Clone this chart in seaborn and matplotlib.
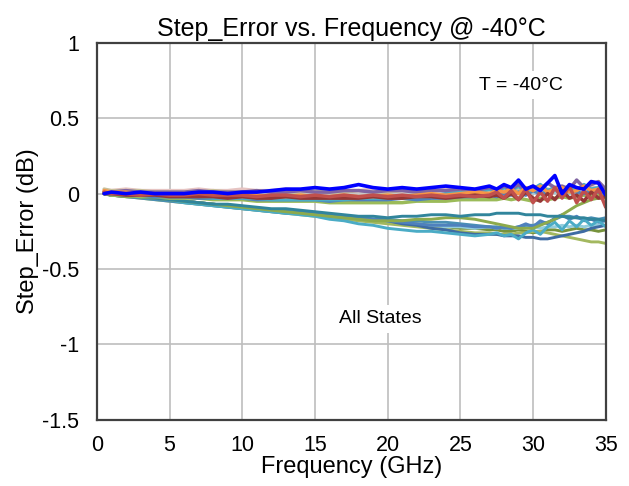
import seaborn as sns
import matplotlib.pyplot as plt

# frequency points (GHz)
freq = [0.5, 1, 2, 3, 4, 5, 6, 7, 8, 9, 10, 11, 12, 13, 14, 15, 16, 17, 18, 19, 20,
        21, 22, 23, 24, 25, 26, 27, 27.5, 28, 28.5, 29, 29.5, 30, 30.5, 31, 31.5,
        32, 32.5, 33, 33.5, 34, 34.5, 35]

# lower group of states (diverging downwards)
low_dark_teal = [0.00, -0.01, -0.01, -0.02, -0.03, -0.04,
                 -0.05, -0.06, -0.07, -0.07, -0.08,
                 -0.09, -0.10, -0.10, -0.11, -0.12,
                 -0.13, -0.14, -0.15, -0.15, -0.16,
                 -0.15, -0.15, -0.14, -0.14, -0.15,
                 -0.14, -0.14,
                 -0.13, -0.13, -0.13, -0.13, -0.14, -0.14, -0.14, -0.15, -0.15, -0.15,
                 -0.16, -0.16, -0.16, -0.17, -0.17, -0.18]
low_olive_rise = [0.00, -0.01, -0.02, -0.02, -0.03, -0.04,
                  -0.05, -0.06, -0.07, -0.08, -0.09,
                  -0.10, -0.11, -0.12, -0.13, -0.14,
                  -0.15, -0.16, -0.17, -0.18, -0.18,
                  -0.18, -0.17, -0.17, -0.16, -0.16,
                  -0.17, -0.19,
                  -0.20, -0.21, -0.22, -0.23, -0.23, -0.23, -0.21, -0.19, -0.17, -0.14,
                  -0.11, -0.08, -0.06, -0.04, -0.03, -0.03]
low_olive_fall = [0.00, -0.01, -0.02, -0.03, -0.04, -0.05,
                  -0.06, -0.07, -0.08, -0.09, -0.10,
                  -0.11, -0.12, -0.13, -0.14, -0.15,
                  -0.16, -0.17, -0.18, -0.19, -0.20,
                  -0.21, -0.22, -0.23, -0.24, -0.25,
                  -0.26, -0.26,
                  -0.27, -0.27, -0.27, -0.26, -0.26, -0.25, -0.25, -0.26, -0.27, -0.28,
                  -0.29, -0.30, -0.31, -0.32, -0.32, -0.33]
low_steel = [0.01, 0.00, -0.01, -0.02, -0.03, -0.04,
             -0.05, -0.06, -0.07, -0.08, -0.09,
             -0.10, -0.11, -0.12, -0.12, -0.13,
             -0.14, -0.15, -0.16, -0.17, -0.18,
             -0.19, -0.20, -0.21, -0.21, -0.21,
             -0.22, -0.22,
             -0.23, -0.22, -0.23, -0.22, -0.20, -0.22, -0.18, -0.20, -0.16, -0.14,
             -0.17, -0.15, -0.18, -0.17, -0.19, -0.18]
low_cyan = [0.00, 0.00, -0.01, -0.02, -0.03, -0.04,
            -0.06, -0.07, -0.08, -0.09, -0.10,
            -0.11, -0.12, -0.13, -0.14, -0.15,
            -0.17, -0.18, -0.20, -0.21, -0.23,
            -0.24, -0.25, -0.25, -0.26, -0.27,
            -0.28, -0.27,
            -0.26, -0.28, -0.27, -0.30, -0.26, -0.24, -0.27, -0.22, -0.19, -0.24,
            -0.18, -0.22, -0.17, -0.21, -0.18, -0.22]
low_light_blue = [0.01, 0.00, -0.01, -0.02, -0.03, -0.04,
                  -0.05, -0.06, -0.07, -0.08, -0.09,
                  -0.10, -0.11, -0.12, -0.13, -0.14,
                  -0.15, -0.16, -0.17, -0.18, -0.19,
                  -0.20, -0.21, -0.21, -0.22, -0.22,
                  -0.23, -0.22,
                  -0.23, -0.22, -0.23, -0.23, -0.22, -0.22, -0.23, -0.22, -0.22, -0.21,
                  -0.22, -0.21, -0.22, -0.21, -0.21, -0.21]
low_dark_blue = [0.00, -0.01, -0.01, -0.02, -0.03, -0.04,
                 -0.05, -0.06, -0.07, -0.08, -0.09,
                 -0.10, -0.11, -0.12, -0.13, -0.13,
                 -0.14, -0.15, -0.16, -0.17, -0.18,
                 -0.20, -0.21, -0.23, -0.24, -0.26,
                 -0.27, -0.27,
                 -0.27, -0.28, -0.28, -0.28, -0.29, -0.29, -0.30, -0.30, -0.29, -0.28,
                 -0.27, -0.26, -0.25, -0.23, -0.22, -0.21]
low_teal_blue = [0.00, -0.01, -0.02, -0.03, -0.04, -0.05,
                 -0.06, -0.07, -0.08, -0.09, -0.10,
                 -0.11, -0.12, -0.13, -0.13, -0.14,
                 -0.15, -0.16, -0.16, -0.17, -0.17,
                 -0.18, -0.18, -0.19, -0.19, -0.20,
                 -0.21, -0.22,
                 -0.22, -0.23, -0.23, -0.22, -0.21, -0.21, -0.20, -0.19, -0.17, -0.15,
                 -0.15, -0.16, -0.17, -0.16, -0.17, -0.16]
low_olive_mid = [0.00, -0.01, -0.02, -0.02, -0.03, -0.04,
                 -0.05, -0.06, -0.07, -0.08, -0.09,
                 -0.10, -0.11, -0.12, -0.13, -0.14,
                 -0.15, -0.16, -0.17, -0.18, -0.19,
                 -0.20, -0.20, -0.21, -0.22, -0.23,
                 -0.23, -0.24,
                 -0.24, -0.25, -0.25, -0.24, -0.25, -0.26, -0.25, -0.24, -0.24, -0.25,
                 -0.24, -0.23, -0.24, -0.24, -0.25, -0.24]

# upper group of states (near 0 dB)
up_red = [0.01, 0.00, 0.00, -0.01, 0.00, -0.01,
          -0.01, 0.00, -0.01, -0.01, -0.01,
          -0.02, -0.01, -0.01, -0.02, -0.01,
          -0.02, -0.01, -0.02, -0.01, -0.02,
          -0.01, -0.02, -0.01, -0.02, -0.01,
          -0.02, -0.01,
          0.01, -0.03, 0.02, -0.04, 0.03, -0.06, 0.01, -0.05, 0.04, -0.03,
          0.05, -0.06, 0.02, -0.04, 0.03, -0.09]
up_orange = [0.02, 0.01, 0.01, 0.00, 0.00, -0.01,
             0.00, -0.01, -0.01, -0.01, -0.02,
             -0.01, -0.02, -0.02, -0.01, -0.02,
             -0.02, -0.01, -0.02, -0.02, -0.01,
             -0.02, -0.01, 0.00, -0.01, 0.00,
             0.01, 0.00,
             0.02, 0.01, 0.03, 0.00, 0.04, 0.02, 0.05, 0.01, 0.03, 0.04,
             0.01, 0.02, 0.05, 0.02, 0.03, 0.01]
up_purple = [0.01, 0.01, 0.02, 0.01, 0.01, 0.01,
             0.01, 0.02, 0.01, 0.01, 0.01,
             0.02, 0.01, 0.01, 0.02, 0.01,
             0.01, 0.02, 0.02, 0.01, 0.02,
             0.02, 0.01, 0.02, 0.02, 0.03,
             0.02, 0.04,
             0.02, 0.05, 0.03, 0.06, 0.02, 0.05, 0.03, 0.07, 0.04, 0.05,
             0.03, 0.09, 0.04, 0.06, 0.08, 0.03]
up_teal = [0.01, 0.00, 0.00, -0.01, -0.01, -0.02,
           -0.02, -0.02, -0.03, -0.03, -0.03,
           -0.03, -0.04, -0.04, -0.04, -0.04,
           -0.04, -0.04, -0.03, -0.03, -0.03,
           -0.03, -0.02, -0.02, 0.00, 0.01,
           0.00, 0.03,
           0.01, 0.04, 0.02, 0.05, 0.01, 0.03, 0.06, 0.02, 0.04, 0.03,
           0.05, 0.02, 0.06, 0.03, 0.04, 0.02]
up_steel = [0.00, 0.00, -0.01, -0.01, -0.02, -0.02,
            -0.02, -0.03, -0.03, -0.03, -0.03,
            -0.04, -0.04, -0.04, -0.04, -0.04,
            -0.05, -0.04, -0.04, -0.04, -0.04,
            -0.03, -0.04, -0.03, -0.03, -0.02,
            -0.02, -0.01,
            -0.02, 0.00, -0.01, 0.01, -0.01, 0.02, 0.00, 0.01, 0.03, 0.00,
            0.02, 0.01, 0.00, 0.02, 0.01, 0.00]
up_olive = [0.00, -0.01, -0.01, -0.02, -0.02, -0.03,
            -0.03, -0.03, -0.04, -0.04, -0.04,
            -0.05, -0.05, -0.05, -0.05, -0.05,
            -0.06, -0.06, -0.06, -0.06, -0.06,
            -0.06, -0.05, -0.05, -0.05, -0.04,
            -0.04, -0.04,
            -0.04, -0.03, -0.04, -0.03, -0.04, -0.05, -0.03, -0.04, -0.03, -0.02,
            -0.03, -0.02, -0.01, -0.02, -0.01, -0.02]
up_pink = [0.02, 0.02, 0.03, 0.02, 0.02, 0.02,
           0.02, 0.03, 0.02, 0.02, 0.03,
           0.02, 0.02, 0.03, 0.02, 0.02,
           0.03, 0.02, 0.02, 0.03, 0.02,
           0.02, 0.03, 0.02, 0.03, 0.02,
           0.03, 0.02,
           0.03, 0.02, 0.04, 0.03, 0.02, 0.04, 0.03, 0.02, 0.04, 0.03,
           0.02, 0.04, 0.03, 0.05, 0.03, 0.04]
up_tan = [0.03, 0.02, 0.02, 0.02, 0.01, 0.01,
          0.01, 0.01, 0.02, 0.01, 0.01,
          0.01, 0.02, 0.01, 0.01, 0.02,
          0.01, 0.01, 0.02, 0.01, 0.01,
          0.02, 0.01, 0.02, 0.02, 0.01,
          0.02, 0.02,
          0.03, 0.01, 0.02, 0.03, 0.01, 0.04, 0.02, 0.03, 0.01, 0.04,
          0.02, 0.03, 0.05, 0.02, 0.03, 0.04]
up_light_blue = [0.01, 0.01, 0.00, 0.00, -0.01, -0.01,
                 -0.01, -0.02, -0.02, -0.02, -0.02,
                 -0.03, -0.02, -0.03, -0.03, -0.03,
                 -0.03, -0.03, -0.02, -0.03, -0.02,
                 -0.02, -0.02, -0.01, -0.01, -0.01,
                 0.00, 0.00,
                 0.01, -0.01, 0.02, 0.00, 0.03, 0.01, 0.00, 0.02, 0.01, 0.03,
                 0.00, 0.02, 0.04, 0.01, 0.02, 0.01]
up_dark_red = [0.00, 0.00, -0.01, -0.01, -0.01, -0.02,
               -0.02, -0.02, -0.02, -0.03, -0.02,
               -0.03, -0.03, -0.02, -0.03, -0.03,
               -0.03, -0.03, -0.03, -0.02, -0.03,
               -0.03, -0.02, -0.02, -0.03, -0.02,
               -0.01, -0.02,
               -0.01, -0.03, 0.00, -0.04, 0.01, -0.03, -0.05, 0.00, -0.04, 0.02,
               -0.03, -0.01, -0.05, 0.01, -0.03, -0.02]
up_blue = [0.00, 0.01, 0.00, 0.01, 0.00, 0.00,
           0.00, 0.01, 0.01, 0.00, 0.01,
           0.01, 0.02, 0.03, 0.03, 0.04,
           0.03, 0.04, 0.06, 0.04, 0.03,
           0.04, 0.03, 0.04, 0.05, 0.04,
           0.03, 0.05,
           0.03, 0.06, 0.04, 0.09, 0.03, 0.05, 0.02, 0.07, 0.12, 0.00,
           0.06, 0.04, 0.03, 0.08, 0.07, -0.01]

lower = [(low_olive_mid, '#77933C'), (low_light_blue, '#93CDDD'), (low_olive_fall, '#A3B85F'),
         (low_teal_blue, '#4A8FB5'), (low_dark_blue, '#3E6BA3'), (low_steel, '#4F81BD'),
         (low_cyan, '#4BACC6'), (low_olive_rise, '#8DAA4C'), (low_dark_teal, '#31859C')]
upper = [(up_pink, '#E6C4C2'), (up_tan, '#C9C09A'), (up_olive, '#9BBB59'),
         (up_light_blue, '#93CDDD'), (up_steel, '#4F81BD'), (up_teal, '#4BACC6'),
         (up_purple, '#8064A2'), (up_orange, '#F79646'), (up_dark_red, '#953735'),
         (up_red, '#C0504D')]

sns.set_style('white')
plt.rcParams['font.family'] = ['Liberation Sans', 'DejaVu Sans']
plt.rcParams['text.color'] = 'black'
plt.rcParams['axes.labelcolor'] = 'black'

fig = plt.figure(figsize=(6.29, 4.86), dpi=100)
ax = fig.add_axes([0.154, 0.136, 0.809, 0.776])

for vals, c in lower:
    sns.lineplot(x=freq, y=vals, color=c, linewidth=2.1, ax=ax)
for vals, c in upper:
    sns.lineplot(x=freq, y=vals, color=c, linewidth=2.5, ax=ax)
sns.lineplot(x=freq, y=up_blue, color='#0000FF', linewidth=2.6, ax=ax)

ax.set_xlim(0, 35)
ax.set_ylim(-1.5, 1)
ax.set_xticks([0, 5, 10, 15, 20, 25, 30, 35])
ax.set_yticks([-1.5, -1, -0.5, 0, 0.5, 1])
ax.set_yticklabels(['-1.5', '-1', '-0.5', '0', '0.5', '1'])
ax.grid(True, color='#BEBEBE', linewidth=1.2)
ax.tick_params(length=0, labelsize=15.5, colors='black')
ax.tick_params(axis='y', pad=13)
ax.tick_params(axis='x', pad=11)
for s in ax.spines.values():
    s.set_color('#404040')
    s.set_linewidth(1.6)

ax.set_title('Step_Error vs. Frequency @ -40°C', fontsize=18, pad=5, color='black')
ax.set_xlabel('Frequency (GHz)', fontsize=17, labelpad=0)
ax.set_ylabel('Step_Error (dB)', fontsize=17, labelpad=2)

ax.text(29.2, 0.72, 'T = -40°C', fontsize=14, ha='center', va='center', color='black',
        bbox=dict(facecolor='white', edgecolor='none', pad=4))
ax.text(19.5, -0.83, 'All States', fontsize=14, ha='center', va='center', color='black',
        bbox=dict(facecolor='white', edgecolor='none', pad=4))

fig.savefig('out.png', dpi=100)
